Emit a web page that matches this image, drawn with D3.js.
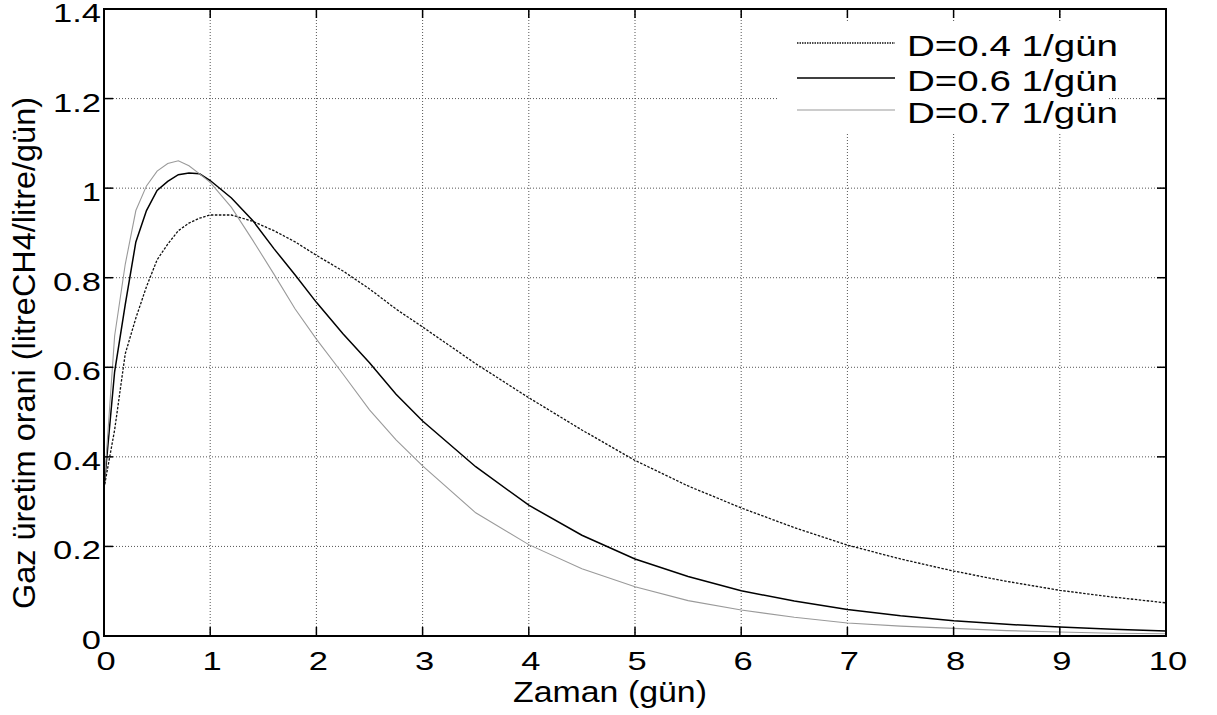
<!DOCTYPE html>
<html>
<head>
<meta charset="utf-8">
<script src="https://cdn.jsdelivr.net/npm/d3@7"></script>
<style>
  body { margin: 0; background: #fff; }
  svg { display: block; }
  text { font-family: "Liberation Sans", Arial, Helvetica, sans-serif; fill: #000; }
</style>
</head>
<body>
<svg class="chart"></svg>
<script>
const size = {w: 1217, h: 715};
const margin = {top: 9, right: 51, bottom: 79, left: 104};

// time axis (gun)
const zaman = [0, 0.1, 0.2, 0.3, 0.4, 0.5, 0.6, 0.7, 0.8, 0.9, 1.0, 1.2, 1.4, 1.6, 1.8, 2.0,
  2.25, 2.5, 2.75, 3.0, 3.5, 4.0, 4.5, 5.0, 5.5, 6.0, 6.5, 7.0, 7.5, 8.0, 8.5, 9.0, 9.5, 10];

// gas production rate for each dilution rate
const gaz04 = [0.33, 0.46, 0.63, 0.71, 0.78, 0.84, 0.875, 0.905, 0.922, 0.933, 0.94, 0.94, 0.926, 0.905,
  0.88, 0.85, 0.815, 0.775, 0.73, 0.69, 0.608, 0.532, 0.46, 0.392, 0.335, 0.286, 0.242, 0.203, 0.172,
  0.145, 0.122, 0.102, 0.087, 0.074];
const gaz06 = [0.33, 0.59, 0.74, 0.88, 0.95, 0.995, 1.015, 1.03, 1.034, 1.032, 1.017, 0.978, 0.928, 0.865,
  0.806, 0.745, 0.675, 0.61, 0.54, 0.48, 0.378, 0.292, 0.225, 0.172, 0.133, 0.101, 0.078, 0.059, 0.045,
  0.034, 0.026, 0.02, 0.015, 0.011];
const gaz07 = [0.33, 0.67, 0.83, 0.95, 1.005, 1.038, 1.055, 1.061, 1.05, 1.032, 1.013, 0.957, 0.884, 0.808,
  0.73, 0.663, 0.585, 0.505, 0.438, 0.38, 0.275, 0.204, 0.15, 0.11, 0.079, 0.058, 0.042, 0.029, 0.022,
  0.017, 0.012, 0.009, 0.006, 0.005];

const seriesNames = ['D=0.4 1/gün', 'D=0.6 1/gün', 'D=0.7 1/gün'];
const xTicks = [0, 1, 2, 3, 4, 5, 6, 7, 8, 9, 10];
const yTicks = [0, 0.2, 0.4, 0.6, 0.8, 1, 1.2, 1.4];

// line styles for the three curves
const styles = [
  {stroke: '#111', width: 1.3, dash: '2.5,1.5'},
  {stroke: '#000', width: 1.5, dash: null},
  {stroke: '#9a9a9a', width: 1.1, dash: null}
];

const svg = d3.select('svg.chart')
  .attr('width', size.w)
  .attr('height', size.h);

const plotW = size.w - margin.left - margin.right;
const plotH = size.h - margin.top - margin.bottom;

const xScale = d3.scaleLinear().domain([0, 10]).range([margin.left, margin.left + plotW]);
const yScale = d3.scaleLinear().domain([0, 1.4]).range([margin.top + plotH, margin.top]);

const g = svg.append('g').classed('container', true);

// --------- GRID ----------
const gridG = g.append('g').attr('class', 'grid');
gridG.selectAll('line.vx')
  .data(xTicks.slice(1, -1))
  .join('line')
  .attr('x1', d => xScale(d)).attr('x2', d => xScale(d))
  .attr('y1', yScale(0)).attr('y2', yScale(1.4))
  .attr('stroke', '#555').attr('stroke-width', 1)
  .attr('stroke-dasharray', '1,2');
gridG.selectAll('line.hy')
  .data(yTicks.slice(1, -1))
  .join('line')
  .attr('x1', xScale(0)).attr('x2', xScale(10))
  .attr('y1', d => yScale(d)).attr('y2', d => yScale(d))
  .attr('stroke', '#555').attr('stroke-width', 1)
  .attr('stroke-dasharray', '1,2');

// --------- CURVES ----------
const allSeries = [gaz04, gaz06, gaz07];
const line = d3.line()
  .x((d, i) => xScale(zaman[i]))
  .y(d => yScale(d));

g.selectAll('path.curve')
  .data(allSeries)
  .join('path')
  .attr('class', 'curve')
  .attr('fill', 'none')
  .attr('d', d => line(d))
  .attr('stroke', (d, i) => styles[i].stroke)
  .attr('stroke-width', (d, i) => styles[i].width)
  .attr('stroke-dasharray', (d, i) => styles[i].dash);

// --------- LEGEND ----------
// white patch behind legend, hides the grid like matlab does
g.append('rect')
  .attr('x', 778).attr('y', 23)
  .attr('width', 329).attr('height', 110)
  .attr('fill', '#fff');

const legY = [43, 78, 110];
const legG = g.append('g').attr('class', 'legend');
seriesNames.forEach((name, i) => {
  legG.append('line')
    .attr('x1', 797).attr('x2', 895)
    .attr('y1', legY[i]).attr('y2', legY[i])
    .attr('stroke', styles[i].stroke)
    .attr('stroke-width', styles[i].width)
    .attr('stroke-dasharray', i === 0 ? '1.5,1' : styles[i].dash);
  legG.append('text')
    .attr('x', 907).attr('y', legY[i] + 13)
    .attr('font-size', 30)
    .attr('textLength', 211)
    .attr('lengthAdjust', 'spacingAndGlyphs')
    .text(name);
});

// --------- AXES BOX + TICKS ----------
const x0 = xScale(0), x1 = xScale(10), y0 = yScale(0), y1 = yScale(1.4);
const tickLen = 9;

const tickG = g.append('g').attr('class', 'ticks')
  .attr('stroke', '#000').attr('stroke-width', 1.5);
xTicks.forEach(t => {
  tickG.append('line').attr('x1', xScale(t)).attr('x2', xScale(t)).attr('y1', y0).attr('y2', y0 - tickLen);
  tickG.append('line').attr('x1', xScale(t)).attr('x2', xScale(t)).attr('y1', y1).attr('y2', y1 + tickLen);
});
yTicks.forEach(t => {
  tickG.append('line').attr('x1', x0).attr('x2', x0 + tickLen).attr('y1', yScale(t)).attr('y2', yScale(t));
  tickG.append('line').attr('x1', x1).attr('x2', x1 - tickLen).attr('y1', yScale(t)).attr('y2', yScale(t));
});

g.append('rect')
  .attr('x', x0).attr('y', y1)
  .attr('width', x1 - x0).attr('height', y0 - y1)
  .attr('fill', 'none')
  .attr('stroke', '#000')
  .attr('stroke-width', 2);

// tick labels, glyphs are stretched sideways in the original
const sx = 1.38;
g.selectAll('text.xt')
  .data(xTicks)
  .join('text')
  .attr('class', 'xt')
  .attr('transform', d => `translate(${xScale(d) + 2},670) scale(${sx},1)`)
  .attr('text-anchor', 'middle')
  .attr('font-size', 25)
  .text(d => d);

g.selectAll('text.yt')
  .data(yTicks)
  .join('text')
  .attr('class', 'yt')
  .attr('transform', d => `translate(101,${yScale(d) + 13}) scale(${sx},1)`)
  .attr('text-anchor', 'end')
  .attr('font-size', 25)
  .text(d => d);

// axis titles
g.append('text')
  .attr('x', 513).attr('y', 702)
  .attr('font-size', 30)
  .attr('textLength', 194)
  .attr('lengthAdjust', 'spacingAndGlyphs')
  .text('Zaman (gün)');

g.append('text')
  .attr('transform', 'translate(35,353) rotate(-90)')
  .attr('text-anchor', 'middle')
  .attr('font-size', 31)
  .attr('textLength', 512)
  .attr('lengthAdjust', 'spacingAndGlyphs')
  .text('Gaz üretim orani (litreCH4/litre/gün)');
</script>
</body>
</html>
